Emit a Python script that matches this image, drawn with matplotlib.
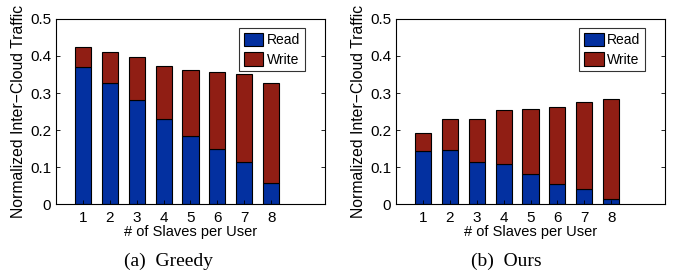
import matplotlib
matplotlib.use("Agg")
import matplotlib.pyplot as plt
import numpy as np

slaves = [1, 2, 3, 4, 5, 6, 7, 8]
greedy_read = [0.371, 0.328, 0.281, 0.230, 0.185, 0.150, 0.114, 0.058]
greedy_total = [0.423, 0.412, 0.396, 0.374, 0.361, 0.357, 0.351, 0.326]
ours_read = [0.144, 0.145, 0.114, 0.109, 0.082, 0.055, 0.040, 0.014]
ours_total = [0.193, 0.229, 0.230, 0.253, 0.256, 0.261, 0.277, 0.283]
yticks = [0, 0.1, 0.2, 0.3, 0.4, 0.5]
ytick_labels = ["0", "0.1", "0.2", "0.3", "0.4", "0.5"]
captions = ["(a)  Greedy", "(b)  Ours"]

BLUE = "#0330A0"
RED = "#901E14"

plt.rcParams['font.family'] = ['Liberation Sans', 'DejaVu Sans']

fig = plt.figure(figsize=(6.79, 2.71), dpi=100)
axes_rects = [
    [0.0825, 0.2472, 0.3961, 0.6827],
    [0.5832, 0.2472, 0.3962, 0.6827],
]
data = [(greedy_read, greedy_total), (ours_read, ours_total)]
centers = [168 / 679, 506 / 679]

for rect, (rd, tot), cap, cx in zip(axes_rects, data, captions, centers):
    ax = fig.add_axes(rect)
    rd = np.array(rd)
    wr = np.array(tot) - rd
    ax.bar(slaves, rd, width=0.6, color=BLUE, edgecolor="black", linewidth=0.8, label="Read")
    ax.bar(slaves, wr, bottom=rd, width=0.6, color=RED, edgecolor="black", linewidth=0.8, label="Write")
    ax.set_xlim(0, 10)
    ax.set_ylim(0, 0.5)
    ax.set_xticks(slaves)
    ax.set_xticklabels([str(s) for s in slaves])
    ax.set_yticks(yticks)
    ax.set_yticklabels(ytick_labels)
    ax.tick_params(direction="in", top=True, right=True, length=3, labelsize=11, width=0.6)
    ax.tick_params(axis="x", top=False, pad=5)
    for sp in ax.spines.values():
        sp.set_linewidth(0.8)
    ax.set_xlabel("# of Slaves per User", fontsize=10.5, labelpad=0)
    ax.set_ylabel("Normalized Inter\u2212Cloud Traffic", fontsize=11.3, labelpad=3)
    leg = ax.legend(loc="upper right", bbox_to_anchor=(0.926, 0.951), fontsize=10,
                    frameon=True, fancybox=False, edgecolor="black",
                    handlelength=1.4, handleheight=1.1, handletextpad=0.25,
                    borderpad=0.35, labelspacing=0.35, borderaxespad=0.0)
    leg.get_frame().set_linewidth(0.8)
    fig.text(cx, 0.037, cap, ha="center", va="center", fontsize=14,
             family=["Liberation Serif", "DejaVu Serif"])

fig.savefig("out.png", dpi=100)
